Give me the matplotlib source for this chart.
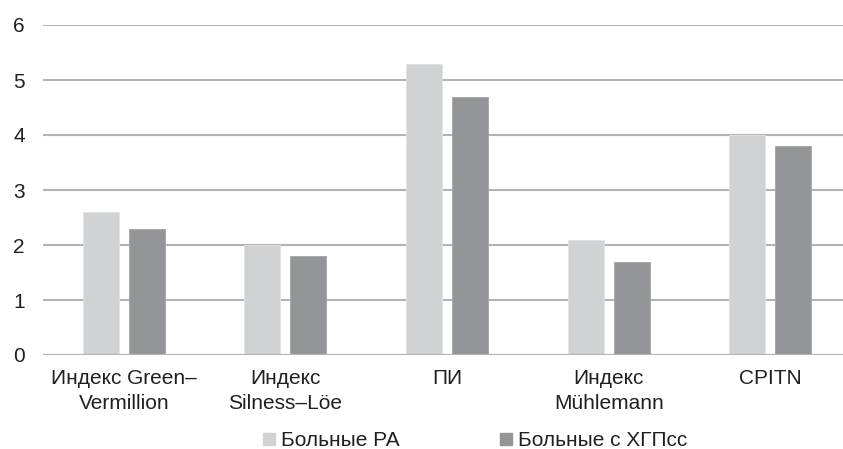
import numpy as np
import matplotlib.pyplot as plt
from matplotlib.lines import Line2D

plt.rcParams['font.family'] = ['Liberation Sans', 'DejaVu Sans']

categories = ["Индекс Green–\nVermillion", "Индекс\nSilness–Löe", "ПИ",
              "Индекс\nMühlemann", "CPITN"]
ra_values = [2.6, 2.0, 5.3, 2.1, 4.0]
hgp_values = [2.3, 1.8, 4.7, 1.7, 3.8]
series_names = ["Больные РА", "Больные с ХГПсс"]
colors = ["#d1d2d4", "#949599"]

fig = plt.figure(figsize=(8.43, 4.49), dpi=100)
ax = fig.add_axes([43 / 843, 1 - 355 / 449, 800 / 843, 330 / 449])

x = np.arange(len(categories))
w = 0.223
ax.bar(x - 0.142, ra_values, w, color=colors[0], edgecolor="#e2e3e4", linewidth=0.6, zorder=3)
ax.bar(x + 0.142, hgp_values, w, color=colors[1], edgecolor="#a3a4a7", linewidth=0.6, zorder=3)

ax.set_xlim(-0.5, 4.45)
ax.set_ylim(0, 6)
ax.set_yticks(range(0, 7))
ax.yaxis.grid(True, color="#b3b3b3", linewidth=1.5, zorder=0)
ax.set_axisbelow(True)
for s in ax.spines.values():
    s.set_visible(False)
ax.axhline(0, color="#b3b3b3", linewidth=1.5, zorder=4)

ax.set_xticks(x)
ax.set_xticklabels(categories, linespacing=1.4)
ax.tick_params(axis="both", length=0, labelsize=15, colors="#231f20")
ax.tick_params(axis="x", pad=10)
ax.tick_params(axis="y", pad=13)

handles = [Line2D([], [], marker="s", linestyle="none", markersize=9,
                  markerfacecolor=c, markeredgecolor=c) for c in colors]
fig.legend(handles, series_names, loc="center", bbox_to_anchor=(475 / 843, 1 - 441 / 449),
           ncol=2, frameon=False, fontsize=15, columnspacing=4.8,
           handletextpad=0.3, handlelength=0.6, borderpad=0, labelcolor="#231f20")

fig.savefig("out.png", dpi=100)
